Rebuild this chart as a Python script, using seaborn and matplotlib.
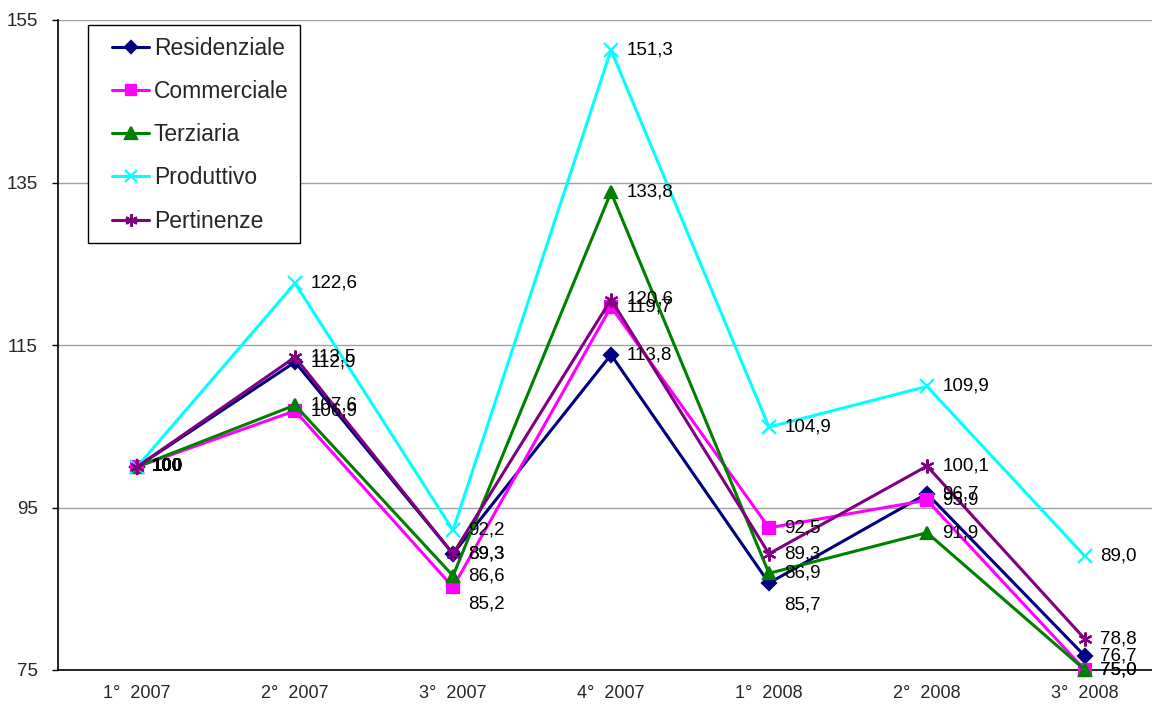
import matplotlib
matplotlib.use("Agg")
import matplotlib.pyplot as plt
import seaborn as sns
import pandas as pd
from matplotlib.lines import Line2D
from matplotlib.patches import Rectangle

# Quarterly index values (1° 2007 = 100)
quarters = ["1°  2007", "2°  2007", "3°  2007", "4°  2007", "1°  2008", "2°  2008", "3°  2008"]
residenziale = [100, 112.9, 89.3, 113.8, 85.7, 96.7, 76.7]
commerciale = [100, 106.9, 85.2, 119.7, 92.5, 95.9, 75.0]
terziaria = [100, 107.6, 86.6, 133.8, 86.9, 91.9, 75.0]
produttivo = [100, 122.6, 92.2, 151.3, 104.9, 109.9, 89.0]
pertinenze = [100, 113.5, 89.3, 120.6, 89.3, 100.1, 78.8]
series_names = ["Residenziale", "Commerciale", "Terziaria", "Produttivo", "Pertinenze"]
y_ticks = [75, 95, 115, 135, 155]

values = [residenziale, commerciale, terziaria, produttivo, pertinenze]
colors = {"Residenziale": "#000080", "Commerciale": "#FF00FF", "Terziaria": "#008000",
          "Produttivo": "#00FFFF", "Pertinenze": "#800080"}
markers = {"Residenziale": "D", "Commerciale": "s", "Terziaria": "^",
           "Produttivo": "x", "Pertinenze": (6, 2, 0)}
msizes = {"Residenziale": 7, "Commerciale": 8, "Terziaria": 9, "Produttivo": 10, "Pertinenze": 10}

rows = []
for name, vals in zip(series_names, values):
    for i, v in enumerate(vals):
        rows.append({"serie": name, "pos": i, "valore": v})
df = pd.DataFrame(rows)

sns.set_theme(style="white")
plt.rcParams["font.family"] = ["Liberation Sans", "DejaVu Sans"]

W, H = 1152, 705
fig = plt.figure(figsize=(W / 100, H / 100), dpi=100)
ax = fig.add_axes([58 / W, 35 / H, 1106 / W, 650 / H])

for name in series_names:
    sub = df[df["serie"] == name]
    sns.lineplot(data=sub, x="pos", y="valore", ax=ax, color=colors[name],
                 marker=markers[name], markersize=msizes[name],
                 markeredgecolor=colors[name], markerfacecolor=colors[name],
                 markeredgewidth=1.6, linewidth=2.2, legend=False, clip_on=False,
                 zorder=3)

# Value labels placed to the right of each point; a few are nudged downwards
nudges = {("Commerciale", 2): -12, ("Residenziale", 4): -16}
for name in series_names:
    sub = df[df["serie"] == name]
    for _, r in sub.iterrows():
        txt = "100" if r["valore"] == 100 and r["pos"] == 0 else f"{r['valore']:.1f}".replace(".", ",")
        dy = nudges.get((name, int(r["pos"])), 0)
        ax.annotate(txt, (r["pos"], r["valore"]), xytext=(11, dy), textcoords="offset points",
                    ha="left", va="center", fontsize=13.5, color="black",
                    fontweight="bold" if txt == "100" else "normal", zorder=5,
                    annotation_clip=False)

ax.set_xlim(-0.5, 6.5)
ax.set_ylim(75, 155)
ax.set_yticks(y_ticks)
ax.set_yticklabels([str(t) for t in y_ticks], fontsize=13.5)
ax.yaxis.grid(True, color="#A0A0A0", linewidth=1)
ax.xaxis.grid(False)

# category names centred, tick marks between categories
ax.set_xticks([i + 0.5 for i in range(-1, 7)])
ax.set_xticklabels([])
ax.set_xticks(range(len(quarters)), minor=True)
ax.set_xticklabels(quarters, minor=True, fontsize=13)
ax.tick_params(axis="x", which="major", direction="out", length=4.5, width=1, color="black")
ax.tick_params(axis="x", which="minor", length=0, pad=11)
ax.tick_params(axis="y", direction="out", length=4.5, width=1, color="black", left=True, pad=10)
ax.set_xlabel("")
ax.set_ylabel("")

for s in ["top", "right"]:
    ax.spines[s].set_visible(False)
for s in ["left", "bottom"]:
    ax.spines[s].set_color("black")
    ax.spines[s].set_linewidth(1.2)

# legend entries without frame, boxed by a separate rectangle
handles = [Line2D([0], [0], color=colors[n], marker=markers[n], markersize=msizes[n] - 1,
                  markerfacecolor=colors[n], markeredgecolor=colors[n], markeredgewidth=1.6,
                  linewidth=2.2) for n in series_names]
leg = ax.legend(handles, series_names, loc="upper left",
                bbox_to_anchor=(112 / W, 1 - 37 / H), bbox_transform=fig.transFigure,
                borderaxespad=0, borderpad=0, fontsize=16.5, handlelength=1.62,
                handletextpad=0.2, labelspacing=0.88, frameon=False)
leg.set_zorder(7)
box = Rectangle((88 / W, 1 - 243 / H), 212 / W, 218 / H, transform=fig.transFigure,
                facecolor="white", edgecolor="black", linewidth=1.0, zorder=6,
                clip_on=False)
ax.add_patch(box)

fig.savefig("out.png", dpi=100)
